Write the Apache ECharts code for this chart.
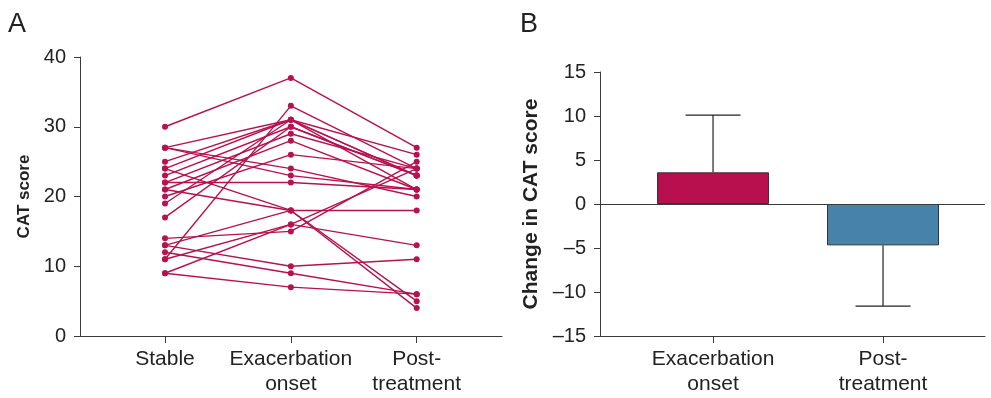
<!DOCTYPE html>
<html><head><meta charset="utf-8">
<script src="https://cdn.jsdelivr.net/npm/echarts@6/dist/echarts.min.js"></script>
<style>html,body{margin:0;padding:0;background:#fff}#c{width:991px;height:398px}</style>
</head><body><div id="c"></div>
<script>
// Panel A: per-patient CAT scores
const timepoints = ['Stable', 'Exacerbation\nonset', 'Post-\ntreatment'];
const stableScores =       [30, 27, 27, 27, 25, 24, 24, 23, 22, 22, 21, 21, 20, 19, 17, 14, 13, 13, 12, 11, 11, 9, 9];
const exacerbationScores = [37, 31, 23, 24, 31, 18, 31, 30, 29, 22, 28, 18, 26, 31, 30, 15, 18, 10, 9, 33, 16, 16, 7];
const postScores =         [27, 26, 21, 20, 23, 4, 21, 23, 24, 21, 21, 18, 24, 23, 23, 25, 5, 11, 6, 24, 13, 24, 6];
const yTicksA = [0, 10, 20, 30, 40];

// Panel B: mean change in CAT score
const changeCategories = ['Exacerbation\nonset', 'Post-\ntreatment'];
const changeMeans = [3.6, -4.7];
const changeErrorEnds = [10.1, -11.6];
const yTicksB = [-15, -10, -5, 0, 5, 10, 15];

const lineColor = '#B5124F';
const axisColor = '#3a3a3a';
const textColor = '#222';
const font = 'Liberation Sans, Arial, Helvetica, sans-serif';

const patientSeries = stableScores.map((s, i) => ({
  type: 'line', xAxisIndex: 0, yAxisIndex: 0,
  data: [[1, s], [2, exacerbationScores[i]], [3, postScores[i]]],
  symbol: 'circle', symbolSize: 6,
  lineStyle: { color: lineColor, width: 1.4 },
  itemStyle: { color: lineColor },
  silent: true, animation: false, z: 3
}));

const chart = echarts.init(document.getElementById('c'), null, { renderer: 'canvas' });
chart.setOption({
  animation: false,
  textStyle: { fontFamily: font },
  graphic: [
    { type: 'text', left: 8, top: 11, style: { text: 'A', font: '27px ' + font, fill: textColor } },
    { type: 'text', left: 520, top: 11, style: { text: 'B', font: '27px ' + font, fill: textColor } }
  ],
  grid: [
    { left: 80, right: 489, top: 57, bottom: 62, containLabel: false },
    { left: 600, right: 6, top: 72, bottom: 62, containLabel: false }
  ],
  xAxis: [
    {
      type: 'value', gridIndex: 0, min: 0.3243, max: 3.678,
      axisLine: { show: true, onZero: false, lineStyle: { color: axisColor, width: 1 } },
      axisTick: { show: true, customValues: [1, 2, 3], length: 7, lineStyle: { color: axisColor } },
      axisLabel: { customValues: [1, 2, 3], formatter: v => timepoints[Math.round(v) - 1] || '',
        fontSize: 21, lineHeight: 25, color: textColor, margin: 11, fontFamily: font },
      splitLine: { show: false }
    },
    {
      type: 'value', gridIndex: 1, min: 0.335, max: 2.6,
      axisLine: { show: true, onZero: false, lineStyle: { color: axisColor, width: 1 } },
      axisTick: { show: true, customValues: [1, 2], length: 7, lineStyle: { color: axisColor } },
      axisLabel: { customValues: [1, 2], formatter: v => changeCategories[Math.round(v) - 1] || '',
        fontSize: 21, lineHeight: 25, color: textColor, margin: 11, fontFamily: font },
      splitLine: { show: false }
    }
  ],
  yAxis: [
    {
      type: 'value', gridIndex: 0, min: 0, max: 40, interval: 10,
      name: 'CAT score', nameLocation: 'middle', nameGap: 47, nameRotate: 90,
      nameTextStyle: { fontSize: 17, fontWeight: 'bold', color: textColor, fontFamily: font },
      axisLine: { show: true, lineStyle: { color: axisColor, width: 1 } },
      axisTick: { show: true, length: 6, lineStyle: { color: axisColor } },
      axisLabel: { fontSize: 20, color: textColor, margin: 14, fontFamily: font },
      splitLine: { show: false }
    },
    {
      type: 'value', gridIndex: 1, min: -15, max: 15, interval: 5,
      name: 'Change in CAT score', nameLocation: 'middle', nameGap: 58, nameRotate: 90,
      nameTextStyle: { fontSize: 21, fontWeight: 'bold', color: textColor, fontFamily: font },
      axisLine: { show: true, onZero: false, lineStyle: { color: axisColor, width: 1 } },
      axisTick: { show: true, length: 6, lineStyle: { color: axisColor } },
      axisLabel: { fontSize: 20, color: textColor, margin: 14, fontFamily: font,
        formatter: v => String(v).replace('-', '\u2013') },
      splitLine: { show: false }
    }
  ],
  series: patientSeries.concat([
    {
      type: 'bar', xAxisIndex: 1, yAxisIndex: 1, barWidth: 112,
      data: changeMeans.map((m, i) => ({
        value: [i + 1, m],
        itemStyle: { color: i === 0 ? '#B80F4E' : '#4682A9', borderColor: '#333', borderWidth: 1 }
      })),
      markLine: {
        silent: true, symbol: 'none', label: { show: false },
        lineStyle: { color: axisColor, width: 1, type: 'solid' },
        data: [{ yAxis: 0 }]
      },
      z: 2
    },
    {
      type: 'custom', xAxisIndex: 1, yAxisIndex: 1, z: 3,
      data: changeMeans.map((m, i) => [i + 1, m, changeErrorEnds[i]]),
      renderItem: (params, api) => {
        const x = api.value(0);
        const p0 = api.coord([x, api.value(1)]);
        const p1 = api.coord([x, api.value(2)]);
        const half = 27.5;
        const st = { stroke: '#222', lineWidth: 1.2 };
        return { type: 'group', children: [
          { type: 'line', shape: { x1: p0[0], y1: p0[1], x2: p1[0], y2: p1[1] }, style: st },
          { type: 'line', shape: { x1: p1[0] - half, y1: p1[1], x2: p1[0] + half, y2: p1[1] }, style: st }
        ] };
      }
    }
  ])
});
</script></body></html>
